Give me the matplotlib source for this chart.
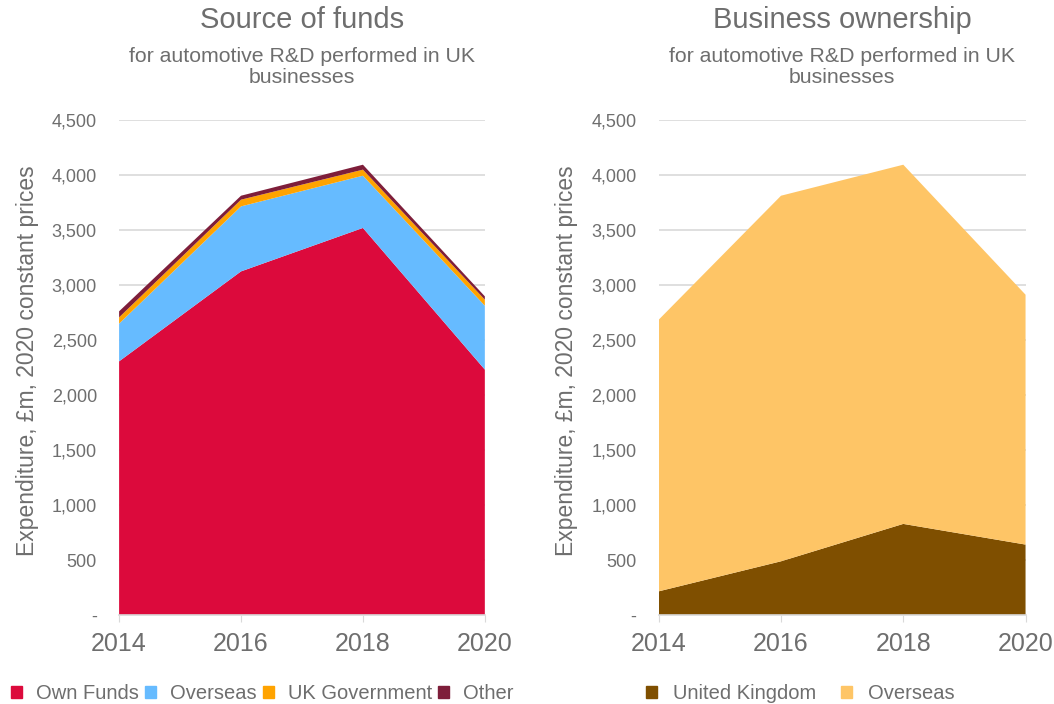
import numpy as np
import matplotlib.pyplot as plt
from matplotlib.ticker import FuncFormatter
from matplotlib.patches import Patch

plt.rcParams['font.family'] = ['Liberation Sans', 'DejaVu Sans']

years = [2014, 2016, 2018, 2020]

# Source of funds (GBP m, 2020 constant prices)
own_funds = [2309, 3127, 3522, 2234]
overseas_funds = [343, 591, 475, 581]
uk_government = [57, 61, 55, 55]
other_funds = [55, 36, 45, 30]
fund_labels = ["Own Funds", "Overseas", "UK Government", "Other"]
fund_colors = ["#DC0A3C", "#66BBFF", "#FFA300", "#7E1E3A"]

# Business ownership
uk_owned = [218, 491, 831, 643]
overseas_owned = [2470, 3324, 3266, 2272]
owner_labels = ["United Kingdom", "Overseas"]
owner_colors = ["#7F4F00", "#FEC566"]

yticks = np.arange(0, 4501, 500)
grey = "#6E6E6E"


def fmt(v, pos):
    return "-" if v == 0 else f"{int(v):,}"


def style_axes(ax, title):
    ax.set_xlim(2014, 2020)
    ax.set_ylim(0, 4500)
    ax.set_xticks(years)
    ax.set_yticks(yticks)
    ax.yaxis.set_major_formatter(FuncFormatter(fmt))
    ax.grid(axis="y", color="#D9D9D9", linewidth=1.2)
    ax.set_axisbelow(True)
    for s in ["top", "right", "left"]:
        ax.spines[s].set_visible(False)
    ax.spines["bottom"].set_color("#D9D9D9")
    ax.spines["bottom"].set_linewidth(1.2)
    ax.tick_params(axis="y", length=0, labelsize=13, colors=grey, pad=16)
    ax.tick_params(axis="x", length=5, color="#D9D9D9", labelsize=18,
                   labelcolor=grey, pad=7)
    ax.set_ylabel("Expenditure, £m, 2020 constant prices", fontsize=16.5,
                  color=grey)
    ax.yaxis.set_label_coords(-0.22, 0.515)
    cx = ax.get_position().x0 + ax.get_position().width / 2
    fig.text(cx, 0.972, title, ha="center", va="center", fontsize=21,
             color=grey)
    fig.text(cx, 0.905, "for automotive R&D performed in UK\nbusinesses",
             ha="center", va="center", fontsize=15.3, color=grey,
             linespacing=1.12)


fig = plt.figure(figsize=(10.54, 7.04), dpi=100)
ax1 = fig.add_axes([0.113, 0.126, 0.347, 0.703])
ax2 = fig.add_axes([0.625, 0.126, 0.348, 0.703])

ax1.stackplot(years, own_funds, overseas_funds, uk_government, other_funds,
              colors=fund_colors, linewidth=0)
style_axes(ax1, "Source of funds")

ax2.stackplot(years, uk_owned, overseas_owned, colors=owner_colors,
              linewidth=0)
style_axes(ax2, "Business ownership")

h1 = [Patch(color=c, label=l) for c, l in zip(fund_colors, fund_labels)]
fig.legend(handles=h1, loc="center left", bbox_to_anchor=(-0.007, 0.015),
           ncol=4, frameon=False, fontsize=14.5, labelcolor=grey,
           handlelength=0.55, handleheight=0.55, handletextpad=0.7,
           columnspacing=0.3)

h2 = [Patch(color=c, label=l) for c, l in zip(owner_colors, owner_labels)]
fig.legend(handles=h2, loc="center left", bbox_to_anchor=(0.596, 0.015),
           ncol=2, frameon=False, fontsize=14.5, labelcolor=grey,
           handlelength=0.55, handleheight=0.55, handletextpad=0.8,
           columnspacing=1.2)

fig.savefig("out.png", dpi=100)
